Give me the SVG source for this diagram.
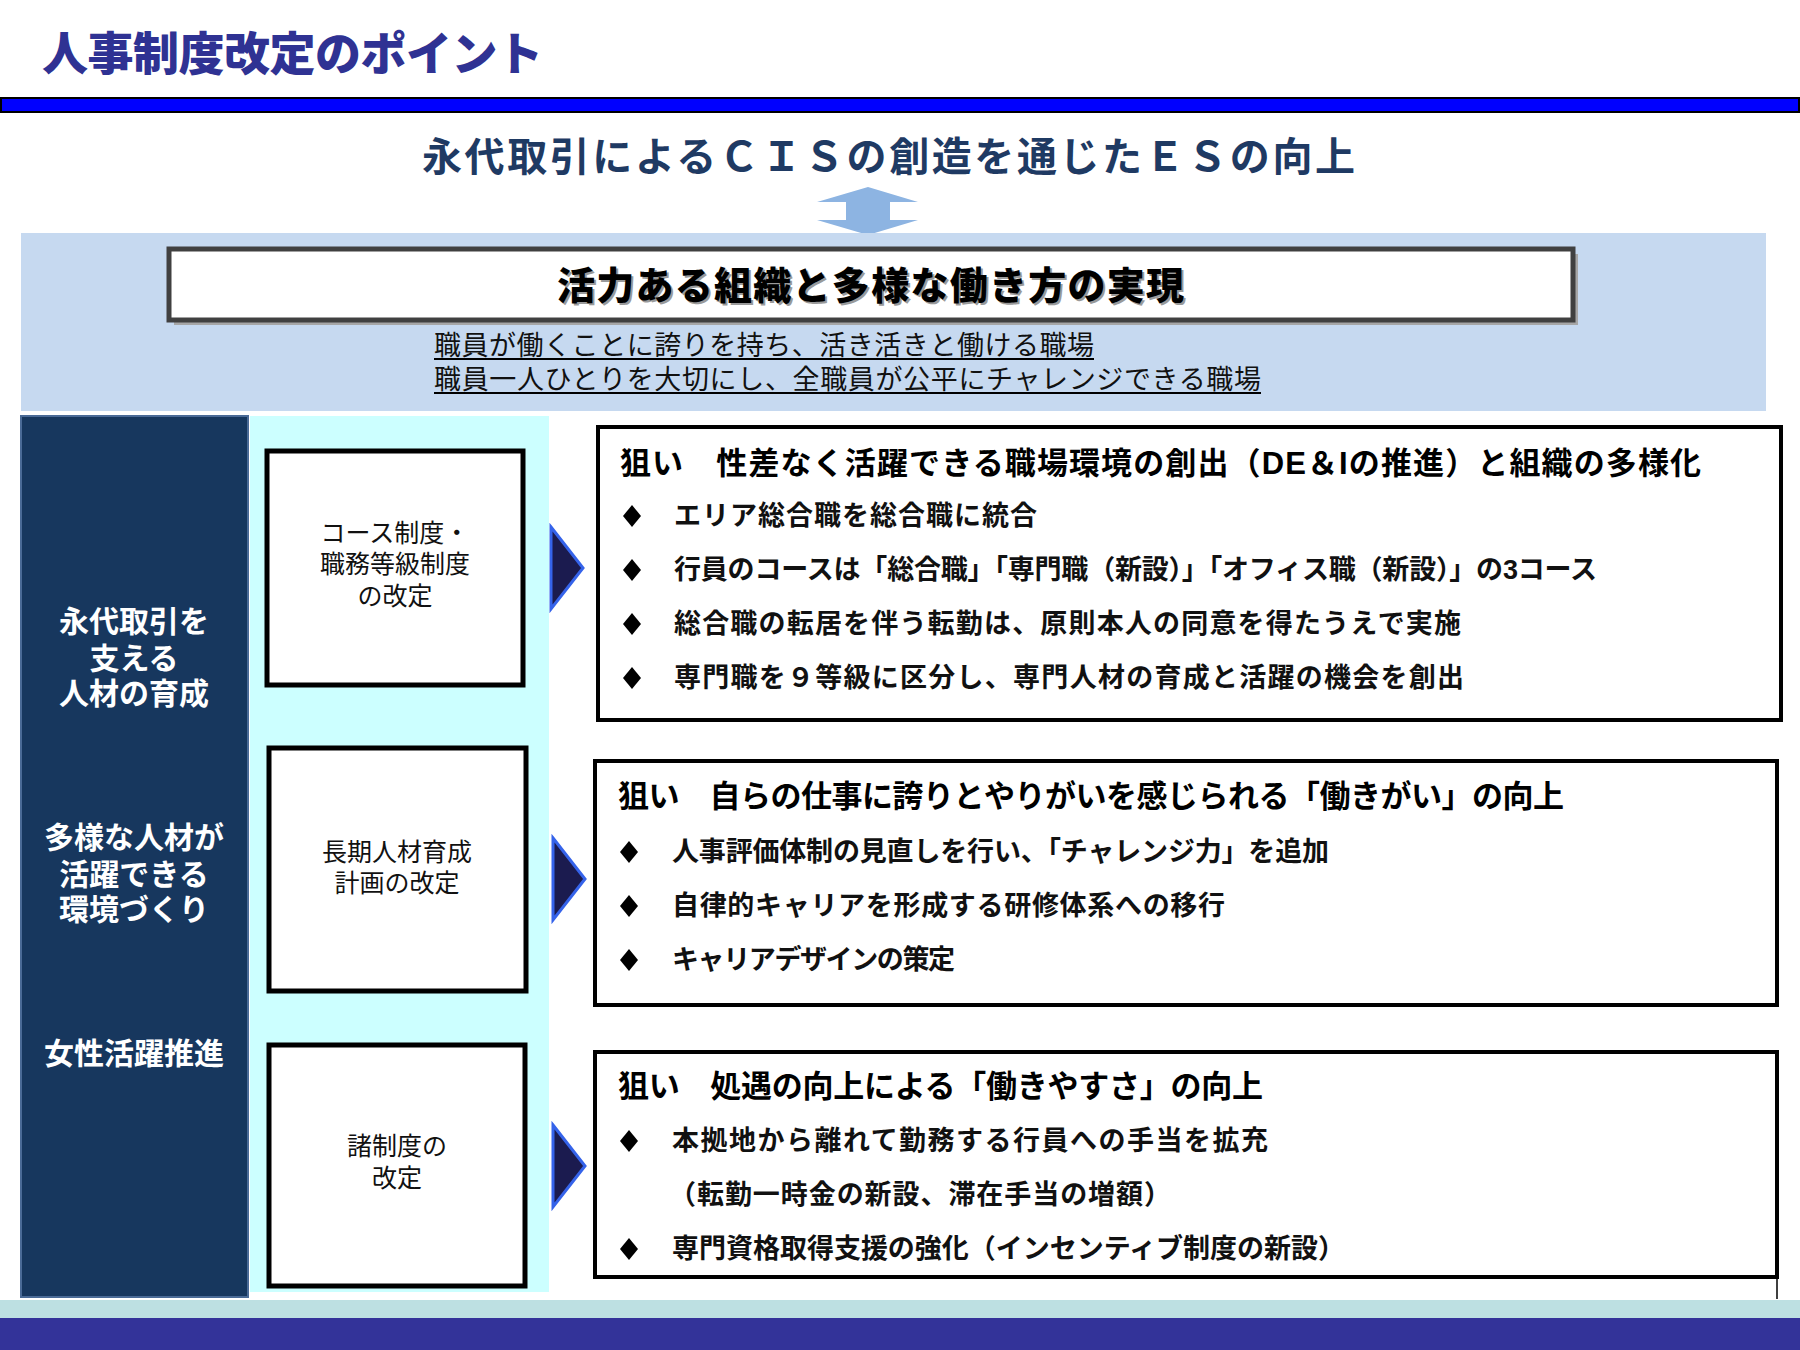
<svg xmlns="http://www.w3.org/2000/svg" width="1800" height="1350" viewBox="0 0 1800 1350">
<defs>
<style>
text{font-family:"Liberation Sans","Noto Sans CJK JP","Noto Sans CJK SC",sans-serif}
.title{font-size:46px;font-weight:900;fill:#2f3293}
.sub{font-size:40px;font-weight:700;fill:#1f3a63}
.main{font-size:38px;font-weight:900;fill:#000}
.mainsh{font-size:38px;font-weight:900;fill:#9a9a9a}
.ul{font-size:27px;font-weight:400;fill:#111}
.lc{font-size:30px;font-weight:700;fill:#fff;text-anchor:middle}
.nb{font-size:25px;font-weight:400;fill:#111;text-anchor:middle}
.hd{font-size:31px;font-weight:700;fill:#000}
.bt{font-size:27px;font-weight:700;fill:#111}
.node{fill:#fff;stroke:#000;stroke-width:5}
.rbox{fill:#fff;stroke:#000;stroke-width:4}
.tri{fill:#1b1b4f;stroke:#3563ea;stroke-width:3;stroke-linejoin:miter}
</style>
<polygon id="dia" points="0,-11 9,0 0,11 -9,0" fill="#000"/>
</defs>

<rect x="0" y="0" width="1800" height="1350" fill="#fff"/>

<g id="header">
<text class="title" x="42" y="70" textLength="501">人事制度改定のポイント</text>
<rect x="1" y="98" width="1798" height="14" fill="#0000ff" stroke="#000" stroke-width="2"/>
<text class="sub" x="422" y="171" textLength="933">永代取引によるＣＩＳの創造を通じたＥＳの向上</text>
</g>

<g id="double-arrow">
<polygon points="868,187 918,202 890,202 890,220 918,220 868,235 817,220 846,220 846,202 817,202" fill="#8db4e2"/>
</g>

<g id="vision-panel">
<rect x="21" y="233" width="1745" height="178" fill="#c6d9f0"/>
<rect x="174" y="254" width="1404" height="71" fill="#a6a6a6"/>
<rect x="169" y="249" width="1404" height="71" fill="#fff" stroke="#404040" stroke-width="5"/>
<text class="mainsh" x="559" y="301" textLength="627">活力ある組織と多様な働き方の実現</text>
<text class="main" x="557" y="299" textLength="627">活力ある組織と多様な働き方の実現</text>
<text class="ul"><tspan x="434" y="355" textLength="660">職員が働くことに誇りを持ち、活き活きと働ける職場</tspan><tspan x="434" y="389" textLength="827">職員一人ひとりを大切にし、全職員が公平にチャレンジできる職場</tspan></text>
<line x1="434" y1="359" x2="1094" y2="359" stroke="#000" stroke-width="2"/>
<line x1="434" y1="393" x2="1261" y2="393" stroke="#000" stroke-width="2"/>
</g>

<g id="left-column">
<rect x="21" y="416" width="227" height="881" fill="#17375e" stroke="#4a6a96" stroke-width="2"/>
<text class="lc"><tspan x="134" y="632">永代取引を</tspan><tspan x="134" y="669">支える</tspan><tspan x="134" y="704">人材の育成</tspan></text>
<text class="lc"><tspan x="134" y="848">多様な人材が</tspan><tspan x="134" y="885">活躍できる</tspan><tspan x="134" y="920">環境づくり</tspan></text>
<text class="lc" x="134" y="1064">女性活躍推進</text>
</g>

<g id="measures-column">
<rect x="250" y="416" width="299" height="876" fill="#ccffff"/>
</g>

<g id="node-course">
<rect class="node" x="267" y="451" width="256" height="234"/>
<text class="nb"><tspan x="395" y="542">コース制度・</tspan><tspan x="395" y="573">職務等級制度</tspan><tspan x="395" y="605">の改定</tspan></text>
</g>

<g id="node-training">
<rect class="node" x="269" y="748" width="257" height="243"/>
<text class="nb"><tspan x="397" y="861">長期人材育成</tspan><tspan x="397" y="892">計画の改定</tspan></text>
</g>

<g id="node-systems">
<rect class="node" x="269" y="1045" width="256" height="241"/>
<text class="nb"><tspan x="397" y="1155">諸制度の</tspan><tspan x="397" y="1187">改定</tspan></text>
</g>

<g id="connectors">
<polygon class="tri" points="551,527 583,568 551,609"/>
<polygon class="tri" points="553,838 585,879 553,920"/>
<polygon class="tri" points="553,1125 585,1166 553,1207"/>
</g>

<g id="aim-1">
<rect class="rbox" x="598" y="427" width="1183" height="293"/>
<text class="hd" x="620" y="474" textLength="1081">狙い　性差なく活躍できる職場環境の創出（DE＆Iの推進）と組織の多様化</text>
<use href="#dia" x="632" y="516"/>
<text class="bt" x="674" y="525" textLength="363">エリア総合職を総合職に統合</text>
<use href="#dia" x="632" y="570"/>
<text class="bt" x="674" y="579" textLength="923">行員のコースは「総合職」「専門職（新設）」「オフィス職（新設）」の3コース</text>
<use href="#dia" x="632" y="624"/>
<text class="bt" x="674" y="633" textLength="787">総合職の転居を伴う転勤は、原則本人の同意を得たうえで実施</text>
<use href="#dia" x="632" y="678"/>
<text class="bt" x="674" y="687" textLength="790">専門職を９等級に区分し、専門人材の育成と活躍の機会を創出</text>
</g>

<g id="aim-2">
<rect class="rbox" x="595" y="761" width="1182" height="244"/>
<text class="hd" x="618" y="807" textLength="946">狙い　自らの仕事に誇りとやりがいを感じられる「働きがい」の向上</text>
<use href="#dia" x="629" y="852"/>
<text class="bt" x="672" y="861" textLength="657">人事評価体制の見直しを行い、「チャレンジ力」を追加</text>
<use href="#dia" x="629" y="906"/>
<text class="bt" x="672" y="915" textLength="553">自律的キャリアを形成する研修体系への移行</text>
<use href="#dia" x="629" y="960"/>
<text class="bt" x="672" y="969" textLength="283">キャリアデザインの策定</text>
</g>

<g id="aim-3">
<rect class="rbox" x="595" y="1052" width="1182" height="225"/>
<text class="hd" x="618" y="1097" textLength="645">狙い　処遇の向上による「働きやすさ」の向上</text>
<use href="#dia" x="629" y="1141"/>
<text class="bt" x="672" y="1150" textLength="596">本拠地から離れて勤務する行員への手当を拡充</text>
<text class="bt" x="669" y="1204" textLength="502">（転勤一時金の新設、滞在手当の増額）</text>
<use href="#dia" x="629" y="1249"/>
<text class="bt" x="672" y="1258" textLength="673">専門資格取得支援の強化（インセンティブ制度の新設）</text>
<line x1="1777" y1="1277" x2="1777" y2="1299" stroke="#000" stroke-width="1.5"/>
</g>

<g id="footer">
<rect x="0" y="1300" width="1800" height="18" fill="#bde0e2"/>
<rect x="0" y="1318" width="1800" height="32" fill="#333399"/>
</g>
</svg>
